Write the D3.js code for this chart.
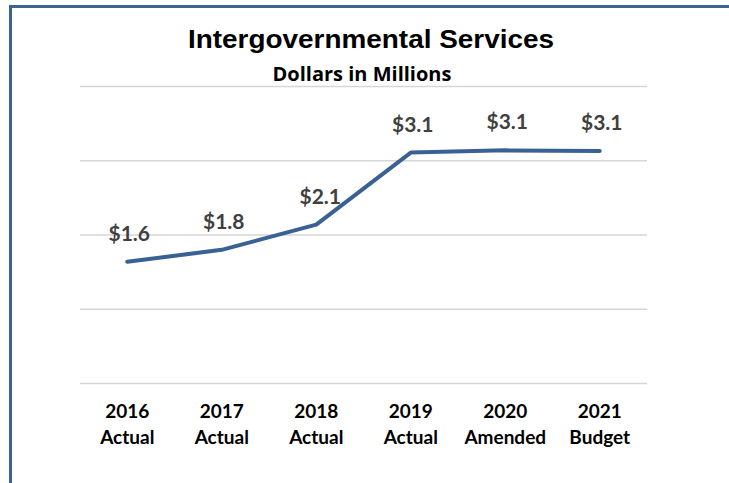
<!DOCTYPE html>
<html>
<head>
<meta charset="utf-8">
<script src="https://cdn.jsdelivr.net/npm/d3@7"></script>
<style>
  html, body { margin: 0; padding: 0; background: #fff; }
  svg { display: block; }
</style>
</head>
<body>
<svg id="chart" width="729" height="483"></svg>
<script>
// Fiscal years and their status labels
const years = ["2016", "2017", "2018", "2019", "2020", "2021"];
const statuses = ["Actual", "Actual", "Actual", "Actual", "Amended", "Budget"];
// Intergovernmental services, dollars in millions
const values = [1.64, 1.80, 2.14, 3.11, 3.14, 3.13];
// Horizontal gridline values
const gridTicks = [0, 1, 2, 3, 4];

const svg = d3.select("#chart");
const W = 729, H = 483;

// Frame (top and left edges)
svg.append("line").attr("x1", 10.5).attr("x2", W).attr("y1", 6.5).attr("y2", 6.5)
  .attr("stroke", "#3b6396").attr("stroke-width", 3);
svg.append("line").attr("x1", 10.5).attr("x2", 10.5).attr("y1", 5).attr("y2", H)
  .attr("stroke", "#3b6396").attr("stroke-width", 3);

// Titles
svg.append("text").attr("x", 371).attr("y", 48).attr("text-anchor", "middle")
  .attr("font-family", "Liberation Sans, Arial, sans-serif").attr("font-weight", "bold")
  .attr("font-size", 26).attr("fill", "#000")
  .attr("textLength", 366).attr("lengthAdjust", "spacingAndGlyphs")
  .text("Intergovernmental Services");
svg.append("text").attr("x", 362).attr("y", 81).attr("text-anchor", "middle")
  .attr("font-family", "Open Sans, sans-serif").attr("font-weight", "bold")
  .attr("font-size", 20).attr("fill", "#000").text("Dollars in Millions");

const x = d3.scaleBand().domain(years).range([80, 647]);
const y = d3.scaleLinear().domain([0, 4]).range([383.5, 86.5]);
const cx = d => x(d) + x.bandwidth() / 2;

// Gridlines
svg.append("g").selectAll("line").data(gridTicks).join("line")
  .attr("x1", 80).attr("x2", 647)
  .attr("y1", d => y(d)).attr("y2", d => y(d))
  .attr("stroke", "#d6d6d6").attr("stroke-width", 1.5);

// Line series
const line = d3.line().x((d, i) => cx(years[i])).y(d => y(d));
svg.append("path").datum(values).attr("d", line)
  .attr("fill", "none").attr("stroke", "#3a6194").attr("stroke-width", 4)
  .attr("stroke-linejoin", "round").attr("stroke-linecap", "round");

// Value labels
svg.append("g").selectAll("text").data(values).join("text")
  .attr("x", (d, i) => cx(years[i]) + (i === 2 ? 4 : 2))
  .attr("y", d => y(d) - 21)
  .attr("text-anchor", "middle")
  .attr("font-family", "Lato, sans-serif").attr("font-weight", "bold")
  .attr("font-size", 21).attr("fill", "#404040")
  .text(d => "$" + d3.format(".1f")(d));

// Category labels (two lines)
const cat = svg.append("g").selectAll("text").data(years).join("text")
  .attr("text-anchor", "middle")
  .attr("font-family", "Lato, sans-serif").attr("font-weight", "bold")
  .attr("font-size", 19).attr("fill", "#000");
cat.append("tspan").attr("x", d => cx(d)).attr("y", 418).text(d => d);
cat.append("tspan").attr("x", d => cx(d)).attr("y", 444).text((d, i) => statuses[i]);
</script>
</body>
</html>
